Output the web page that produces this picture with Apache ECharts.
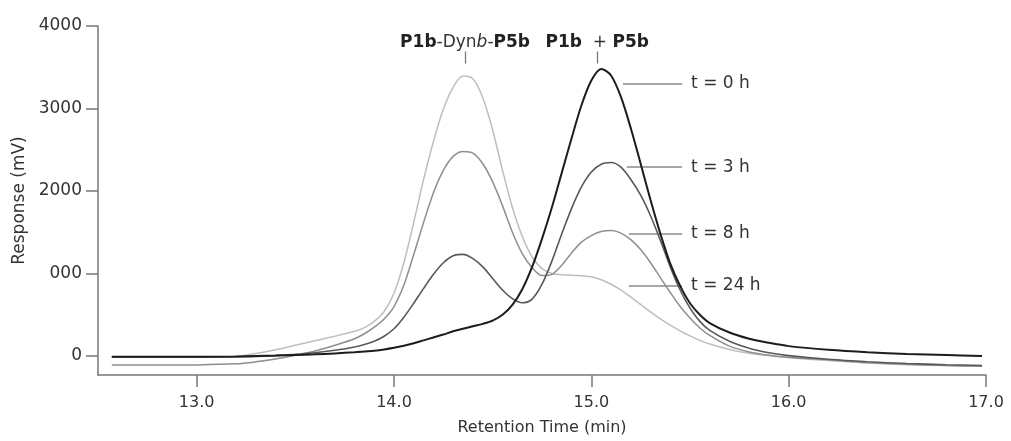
<!DOCTYPE html>
<html>
<head>
<meta charset="utf-8">
<script src="https://cdn.jsdelivr.net/npm/echarts@6/dist/echarts.min.js"></script>
<style>
html,body{margin:0;padding:0;background:#fff;}
#chart{width:1011px;height:441px;}
</style>
</head>
<body>
<div id="chart"></div>
<script>
// Retention time grid (min)
const RT = [12.57, 12.8, 13.0, 13.2, 13.3, 13.4, 13.5, 13.6, 13.7, 13.8, 13.85, 13.9, 13.95,
  14.0, 14.05, 14.1, 14.15, 14.2, 14.25, 14.3, 14.35, 14.4, 14.45, 14.5, 14.55, 14.6, 14.65,
  14.7, 14.75, 14.8, 14.85, 14.9, 14.95, 15.0, 15.05, 15.1, 15.15, 15.2, 15.25, 15.3, 15.35,
  15.4, 15.45, 15.5, 15.55, 15.6, 15.7, 15.8, 15.9, 16.0, 16.2, 16.4, 16.6, 16.8, 16.98];
// Response (mV) for each sampling time
const T0 = [-10, -10, -10, -5, 0, 5, 12, 20, 32, 45, 55, 65, 80,
  100, 125, 155, 190, 225, 260, 300, 330, 360, 390, 430, 500, 620, 810,
  1080, 1420, 1800, 2220, 2640, 3040, 3340, 3480, 3400, 3140, 2760, 2330, 1890, 1480,
  1120, 850, 640, 500, 400, 285, 210, 160, 120, 75, 45, 25, 12, 0];
const T3 = [-10, -10, -10, -8, -5, 5, 20, 40, 70, 110, 140, 180, 240,
  330, 470, 640, 820, 990, 1130, 1215, 1232, 1180, 1080, 940, 800, 695, 645,
  690, 870, 1150, 1480, 1790, 2050, 2230, 2325, 2345, 2290, 2140, 1950, 1700, 1400,
  1080, 800, 580, 420, 310, 180, 95, 40, 5, -40, -70, -90, -105, -115];
const T8 = [-110, -110, -108, -95, -70, -35, 10, 60, 130, 210, 270, 350, 450,
  600, 860, 1230, 1620, 1980, 2250, 2420, 2480, 2460, 2330, 2110, 1820, 1500, 1240,
  1070, 975, 990, 1100, 1250, 1380, 1460, 1510, 1520, 1490, 1410, 1290, 1130, 950,
  770, 600, 460, 340, 250, 120, 50, 10, -15, -45, -80, -100, -115, -125];
const T24 = [-10, -10, -10, -5, 30, 75, 130, 185, 240, 300, 345, 420, 540,
  760, 1130, 1620, 2140, 2600, 2990, 3260, 3395, 3360, 3130, 2740, 2250, 1800, 1450,
  1200, 1060, 1000, 985, 980, 972, 960, 925, 870, 800, 715, 625, 535, 450,
  375, 305, 245, 190, 145, 80, 35, 5, -20, -55, -85, -105, -115, -125];

const SERIES_NAMES = ['t = 0 h', 't = 3 h', 't = 8 h', 't = 24 h'];
const SERIES_DATA = [T0, T3, T8, T24];

const Y_TICKS = [0, 1000, 2000, 3000, 4000];
const Y_TICK_LABELS = ['0', '000', '2000', '3000', '4000'];
const X_TICKS = [13, 14, 15, 16, 17];
const X_TICK_LABELS = ['13.0', '14.0', '15.0', '16.0', '17.0'];

// Annotations (in data units)
const TAG_Y = [3305, 2290, 1485, 850];
const TAG_X_START = [15.16, 15.18, 15.19, 15.19];
const TAG_X_END = 15.46;
const PEAK_X = [14.36, 15.03];
const PEAK_TEXT = ['{b|P1b}-Dyn{i|b}-{b|P5b}', '{b|P1b}  + {b|P5b}'];

const FONT = 'DejaVu Sans';
const COLORS = ['#1c1c1c', '#585858', '#8e8e8e', '#bebebe'];
const WIDTHS = [2, 1.6, 1.5, 1.5];

const chart = echarts.init(document.getElementById('chart'), null, {renderer: 'canvas'});

const series = SERIES_DATA.map((vals, i) => ({
  name: SERIES_NAMES[i],
  type: 'line',
  data: RT.map((x, j) => [x, vals[j]]),
  showSymbol: false,
  smooth: 0.3,
  z: 10 - i,
  lineStyle: {color: COLORS[i], width: WIDTHS[i]},
  itemStyle: {color: COLORS[i]},
  markLine: {
    silent: true,
    symbol: ['none', 'none'],
    animation: false,
    lineStyle: {color: '#8a8a8a', width: 1.5, type: 'solid'},
    label: {show: true, position: 'end', distance: 9, formatter: SERIES_NAMES[i], color: '#333', fontFamily: FONT, fontSize: 17},
    data: [[{coord: [TAG_X_START[i], TAG_Y[i]]}, {coord: [TAG_X_END, TAG_Y[i]]}]]
  }
}));

series.push({
  type: 'line',
  data: [],
  markLine: {
    silent: true,
    symbol: ['none', 'none'],
    animation: false,
    lineStyle: {color: '#777', width: 1.3, type: 'solid'},
    label: {
      show: true, position: 'end', distance: 0,
      color: '#333', fontFamily: FONT, fontSize: 17,
      rich: {
        b: {fontWeight: 'bold', color: '#222', fontFamily: FONT, fontSize: 17},
        i: {fontStyle: 'italic', color: '#333', fontFamily: FONT, fontSize: 17}
      }
    },
    data: PEAK_X.map((x, k) => [
      {coord: [x, 3545]},
      {coord: [x, 3690], label: {formatter: PEAK_TEXT[k]}}
    ])
  }
});

chart.setOption({
  animation: false,
  backgroundColor: '#fff',
  grid: {left: 98, right: 25, top: 26, bottom: 62, containLabel: false},
  xAxis: {
    type: 'value',
    min: 12.5, max: 17,
    name: 'Retention Time (min)',
    nameLocation: 'middle',
    nameGap: 45,
    nameTextStyle: {color: '#333', fontFamily: FONT, fontSize: 16},
    axisLine: {show: true, onZero: false, lineStyle: {color: '#777', width: 1.5}},
    axisTick: {show: true, length: 12, inside: false, customValues: X_TICKS, lineStyle: {color: '#777', width: 1.5}},
    axisLabel: {show: true, margin: 20, customValues: X_TICKS, color: '#333', fontFamily: FONT, fontSize: 16,
      formatter: v => { const k = X_TICKS.indexOf(Math.round(v * 100) / 100); return k >= 0 ? X_TICK_LABELS[k] : ''; }},
    splitLine: {show: false}
  },
  yAxis: {
    type: 'value',
    min: -230, max: 4000,
    name: 'Response (mV)',
    nameLocation: 'middle',
    nameGap: 66,
    nameTextStyle: {color: '#333', fontFamily: FONT, fontSize: 17},
    axisLine: {show: true, onZero: false, lineStyle: {color: '#777', width: 1.5}},
    axisTick: {show: true, length: 12, customValues: Y_TICKS, lineStyle: {color: '#777', width: 1.5}},
    axisLabel: {show: true, margin: 16, customValues: Y_TICKS, color: '#333', fontFamily: FONT, fontSize: 17,
      formatter: v => { const k = Y_TICKS.indexOf(Math.round(v)); return k >= 0 ? Y_TICK_LABELS[k] : ''; }},
    splitLine: {show: false}
  },
  series: series
});
</script>
</body>
</html>
